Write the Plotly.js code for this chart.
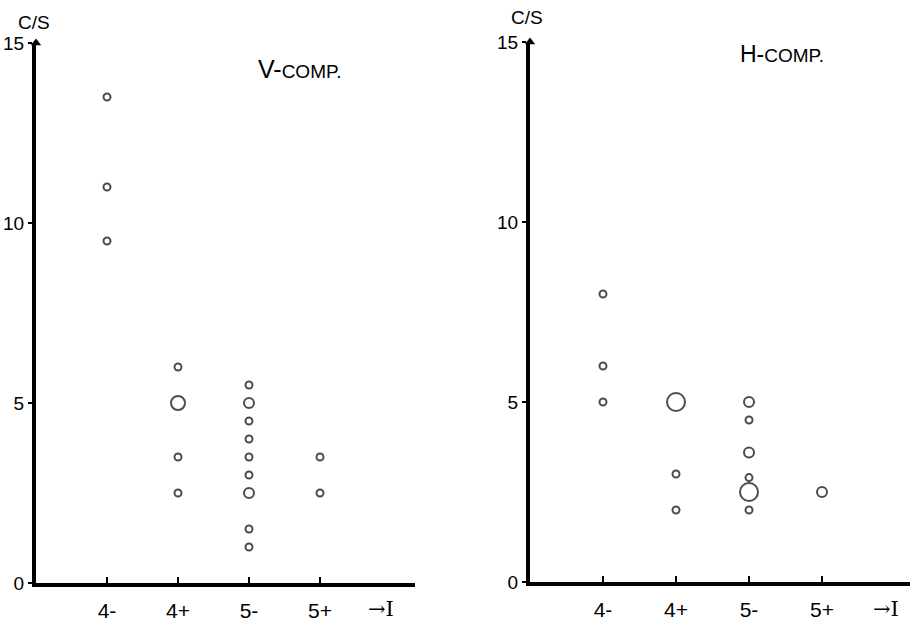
<!DOCTYPE html>
<html>
<head>
<meta charset="utf-8">
<script src="https://cdn.plot.ly/plotly-3.0.1.min.js"></script>
<style>html,body{margin:0;padding:0;background:#fff;}#chart{width:916px;height:621px;}</style>
</head>
<body>
<div id="chart"></div>
<script>
// Categories (I classes) on the x axis
const categories = ['4-', '4+', '5-', '5+'];
const categoryPos = [1, 2, 3, 4];

// V-component: class index, C/S value, number of coinciding observations
const vClass = [1, 1, 1, 2, 2, 2, 2, 3, 3, 3, 3, 3, 3, 3, 3, 3, 4, 4];
const vCS    = [13.5, 11, 9.5, 6, 5, 3.5, 2.5, 5.5, 5, 4.5, 4, 3.5, 3, 2.5, 1.5, 1, 3.5, 2.5];
const vCount = [1, 1, 1, 1, 3, 1, 1, 1, 2, 1, 1, 1, 1, 2, 1, 1, 1, 1];

// H-component
const hClass = [1, 1, 1, 2, 2, 2, 3, 3, 3, 3, 3, 3, 4];
const hCS    = [8, 6, 5, 5, 3, 2, 5, 4.5, 3.6, 2.9, 2.5, 2, 2.5];
const hCount = [1, 1, 1, 4, 1, 1, 2, 1, 2, 1, 4, 1, 2];

const yTicks = [0, 5, 10, 15];

const W = 916, H = 621;
const sizeOf = c => ({1: 7, 2: 10, 3: 14, 4: 18})[c];
const FONT = 'Liberation Sans, Arial, sans-serif';

function trace(xs, ys, counts, xa, ya) {
  return {
    type: 'scatter', mode: 'markers',
    x: xs.map(i => categoryPos[i - 1]), y: ys,
    xaxis: xa, yaxis: ya, cliponaxis: false, hoverinfo: 'skip',
    marker: {
      symbol: 'circle-open', color: '#000',
      size: counts.map(sizeOf),
      line: {width: 2, color: '#000'}
    }
  };
}
// arrow head on top of each y axis
function arrowHead(xa, ya) {
  return {
    type: 'scatter', mode: 'markers', x: [0], y: [yTicks[yTicks.length - 1]],
    xaxis: xa, yaxis: ya, cliponaxis: false, hoverinfo: 'skip',
    marker: {symbol: 'triangle-up', size: 9, color: '#000'}
  };
}

const data = [
  trace(vClass, vCS, vCount, 'x', 'y'),
  trace(hClass, hCS, hCount, 'x2', 'y2'),
  arrowHead('x', 'y'),
  arrowHead('x2', 'y2')
];

function xAxis(d0, d1, maxX, anchor) {
  return {
    domain: [d0 / W, d1 / W], range: [0, maxX], anchor: anchor,
    showline: true, linewidth: 4, linecolor: '#000',
    showgrid: false, zeroline: false,
    tickmode: 'array', tickvals: categoryPos, ticktext: categories,
    ticks: 'inside', ticklen: 6, tickwidth: 1.5, tickcolor: '#000',
    ticklabelstandoff: 6,
    tickfont: {family: FONT, size: 21, color: '#000'},
    fixedrange: true
  };
}
function yAxis(p0, p1, anchor) {
  return {
    domain: [1 - p0 / H, 1 - p1 / H], range: [0, 15], anchor: anchor,
    showline: true, linewidth: 4, linecolor: '#000',
    showgrid: false, zeroline: false,
    tickmode: 'array', tickvals: yTicks, ticktext: yTicks.map(String),
    ticks: 'outside', ticklen: 4, tickwidth: 1.5, tickcolor: '#000',
    tickfont: {family: FONT, size: 19, color: '#000'},
    fixedrange: true
  };
}

function ann(text, x, y, size, xanchor, family) {
  return {text: text, xref: 'paper', yref: 'paper', x: x / W, y: 1 - y / H,
    xanchor: xanchor || 'center', yanchor: 'middle', showarrow: false,
    font: {family: family || FONT, size: size, color: '#000'}};
}

const layout = {
  width: W, height: H, margin: {l: 0, r: 0, t: 0, b: 0},
  paper_bgcolor: '#fff', plot_bgcolor: 'rgba(0,0,0,0)', showlegend: false,
  xaxis: xAxis(36, 415, 379 / 71, 'y'),
  yaxis: yAxis(583, 43, 'x'),
  xaxis2: xAxis(530, 910, 380 / 73, 'y2'),
  yaxis2: yAxis(582, 42, 'x2'),
  annotations: [
    ann('C/S', 34, 23, 19),
    ann('C/S', 527, 17, 19),
    ann('V-<span style="font-size:19px">COMP.</span>', 256, 69, 25, 'left'),
    ann('H-<span style="font-size:19px">COMP.</span>', 738, 54, 23, 'left'),
    ann('\u2192I', 381, 609, 21, 'center', 'DejaVu Serif, serif'),
    ann('\u2192I', 886, 609, 21, 'center', 'DejaVu Serif, serif')
  ]
};

Plotly.newPlot('chart', data, layout, {displayModeBar: false, staticPlot: true});
</script>
</body>
</html>
